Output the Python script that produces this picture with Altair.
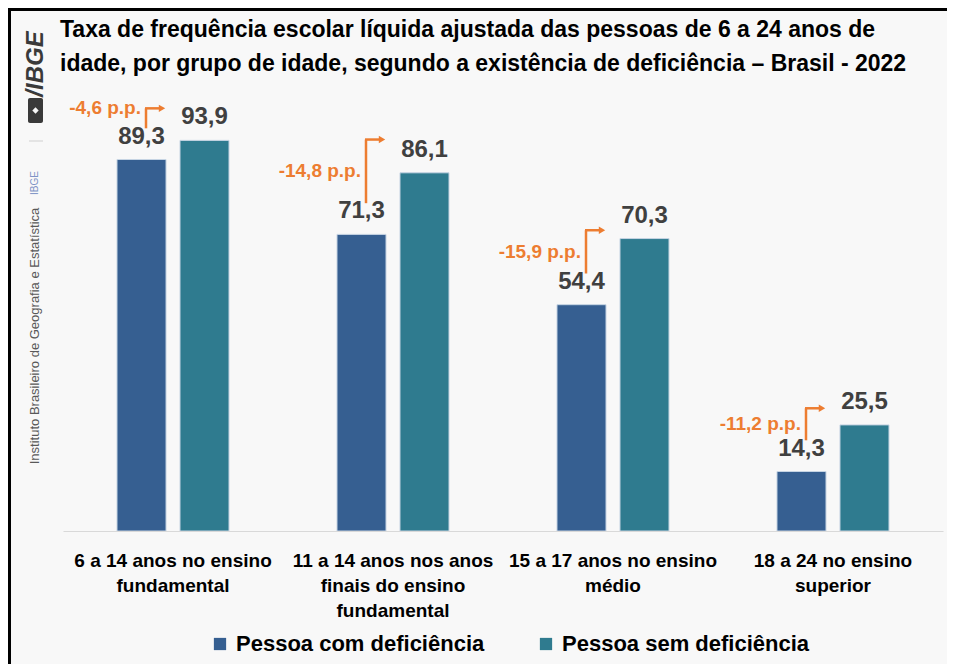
import altair as alt
import pandas as pd

# ---- data ----
categories = [
    "6 a 14 anos no ensino|fundamental",
    "11 a 14 anos nos anos|finais do ensino|fundamental",
    "15 a 17 anos no ensino|médio",
    "18 a 24 no ensino|superior",
]
series = ["Pessoa com deficiência", "Pessoa sem deficiência"]
com_def = [89.3, 71.3, 54.4, 14.3]
sem_def = [93.9, 86.1, 70.3, 25.5]

title_lines = [
    "Taxa de frequência escolar líquida ajustada das pessoas de 6 a 24 anos de",
    "idade, por grupo de idade, segundo a existência de deficiência – Brasil - 2022",
]
side_text = "Instituto Brasileiro de Geografia e Estatística"

# ---- annotation layout (offsets in value units above bars) ----
lo_pad = 7.5
hi_pad = [7.7, 8.0, 2.0, 4.0]
text_at_top = [True, False, False, False]

FONT = "Liberation Sans"
BLUE = "#365f91"
TEAL = "#2f7b8f"
ORANGE = "#ED7D31"
BG = "#f8f8f8"


def fmt(v):
    return f"{v:.1f}".replace(".", ",")


rows = []
for c, a, b in zip(categories, com_def, sem_def):
    rows.append({"cat": c, "serie": series[0], "value": a, "label": fmt(a)})
    rows.append({"cat": c, "serie": series[1], "value": b, "label": fmt(b)})
df = pd.DataFrame(rows)

ann = []
for i, (c, a, b) in enumerate(zip(categories, com_def, sem_def)):
    lo = a + lo_pad
    hi = b + hi_pad[i]
    ty = hi if text_at_top[i] else (lo + hi) / 2
    ann.append({"cat": c, "lo": lo, "hi": hi, "ty": ty, "txt": fmt(a - b) + " p.p."})
dfa = pd.DataFrame(ann)

W, H = 880, 416
PT, PB = 107, 133
xscale = alt.Scale(domain=categories, paddingInner=0.4909, paddingOuter=0.2455)
yscale = alt.Scale(domain=[0, 100], nice=False, zero=True)
xoff_scale = alt.Scale(domain=series, paddingInner=0.222, paddingOuter=0)

x_enc = alt.X(
    "cat:N",
    sort=categories,
    scale=xscale,
    axis=alt.Axis(
        title=None,
        labelExpr="split(datum.label, '|')",
        labelFont=FONT,
        labelFontSize=19,
        labelFontWeight="bold",
        labelColor="#000000",
        labelLineHeight=25,
        labelPadding=20,
        labelAngle=0,
        labelLimit=0,
        ticks=False,
        domainColor="#d9d9d9",
        domainWidth=1,
        grid=False,
        zindex=1,
    ),
)
y_enc = alt.Y("value:Q", scale=yscale, axis=None)

one = alt.Data(values=[{"a": 1}])

# frame borders (left and top)
left_border = alt.Chart(one).mark_rule(color="#000000", strokeWidth=3).encode(
    x=alt.value(-53.5), y=alt.value(-PT), y2=alt.value(H + PB)
)
top_border = alt.Chart(one).mark_rule(color="#000000", strokeWidth=3).encode(
    x=alt.value(-55), x2=alt.value(W + 20), y=alt.value(-PT + 1.5)
)

bars = alt.Chart(df).mark_bar(stroke="#c6d4e3", strokeWidth=1).encode(
    x=x_enc,
    xOffset=alt.XOffset("serie:N", scale=xoff_scale, sort=series),
    y=y_enc,
    color=alt.Color(
        "serie:N",
        scale=alt.Scale(domain=series, range=[BLUE, TEAL]),
        legend=alt.Legend(
            title=None,
            orient="none",
            direction="horizontal",
            legendX=146,
            legendY=518,
            symbolType="square",
            symbolSize=150,
            symbolStrokeWidth=0,
            labelFont=FONT,
            labelFontSize=22,
            labelFontWeight="bold",
            labelColor="#000000",
            labelLimit=0,
            labelOffset=5,
            columnPadding=50,
        ),
    ),
)

values = alt.Chart(df).mark_text(
    font=FONT, fontSize=24, fontWeight="bold", color="#404040", baseline="bottom", dy=-11
).encode(
    x=alt.X("cat:N", sort=categories, scale=xscale),
    xOffset=alt.XOffset("serie:N", scale=xoff_scale, sort=series),
    y=y_enc,
    text="label:N",
)

ax = alt.X("cat:N", sort=categories, scale=xscale)
vline = alt.Chart(dfa).mark_rule(color=ORANGE, strokeWidth=2.5, xOffset=-27).encode(
    x=ax, y=alt.Y("lo:Q", scale=yscale), y2="hi:Q"
)
hline = alt.Chart(dfa).mark_rule(color=ORANGE, strokeWidth=2.5, xOffset=-28, x2Offset=-13).encode(
    x=ax, x2="cat:N", y=alt.Y("hi:Q", scale=yscale)
)
head = alt.Chart(dfa).mark_point(
    shape="triangle-right", filled=True, color=ORANGE, size=55, opacity=1, xOffset=-11
).encode(x=ax, y=alt.Y("hi:Q", scale=yscale))
diff_txt = alt.Chart(dfa).mark_text(
    font=FONT, fontSize=19, fontWeight="bold", color=ORANGE, align="right", baseline="middle", xOffset=-32
).encode(x=ax, y=alt.Y("ty:Q", scale=yscale), text="txt:N")

title = alt.Chart(one).mark_text(
    font=FONT, fontSize=23, fontWeight="bold", color="#000000", align="left", baseline="middle", lineHeight=34
).encode(x=alt.value(-3), y=alt.value(-85), text=alt.value(title_lines))

side = alt.Chart(one).mark_text(
    font=FONT, fontSize=13, color="#595959", angle=270, align="center", baseline="middle"
).encode(x=alt.value(-28), y=alt.value(221), text=alt.value(side_text))

side_ibge = alt.Chart(one).mark_text(
    font=FONT, fontSize=10, color="#7e93c5", angle=270, align="center", baseline="middle"
).encode(x=alt.value(-28), y=alt.value(68), text=alt.value("IBGE"))

sep = alt.Chart(one).mark_rule(color="#d0d0d0", strokeWidth=1).encode(
    x=alt.value(-34), x2=alt.value(-20), y=alt.value(26)
)

logo = alt.Chart(one).mark_text(
    font=FONT, fontSize=24, fontWeight="bold", fontStyle="italic", color="#3a3a3a",
    angle=270, align="center", baseline="middle"
).encode(x=alt.value(-27), y=alt.value(-51), text=alt.value("/IBGE"))

logo_icon = alt.Chart(one).mark_rect(fill="#3a3a3a", cornerRadius=2).encode(
    x=alt.value(-35), x2=alt.value(-20), y=alt.value(-17), y2=alt.value(8)
)
logo_icon2 = alt.Chart(one).mark_point(
    shape="diamond", filled=True, color=BG, size=40, opacity=1
).encode(x=alt.value(-27.5), y=alt.value(-4.5))

chart = alt.layer(
    left_border, top_border, bars, values, vline, hline, head, diff_txt, title,
    side, side_ibge, sep, logo, logo_icon, logo_icon2
).properties(
    width=W,
    height=H,
    autosize=alt.AutoSizeParams(type="none"),
    padding={"left": 55, "top": PT, "right": 4, "bottom": PB},
).configure(
    background=BG, view=alt.ViewConfig(strokeWidth=0, stroke="transparent")
)

chart.save("out.html", embed_options={"renderer": "svg", "actions": False})
